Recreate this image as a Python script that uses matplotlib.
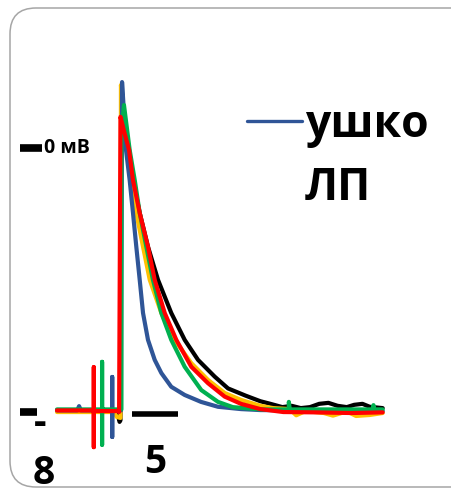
import matplotlib
matplotlib.use("Agg")
import matplotlib.pyplot as plt
from matplotlib.patches import FancyBboxPatch
from matplotlib.lines import Line2D

plt.rcParams['font.family'] = ['Open Sans', 'DejaVu Sans']

# traces: time (ms), membrane potential (mV)
red_t = [0.0, 2.4, 4.0, 4.0, 4.0, 4.0, 6.75, 6.75, 6.9, 7.3, 7.83, 8.26, 8.99, 9.89, 10.62,
         11.71, 12.97, 14.6, 16.41, 18.23, 20.0, 22.1, 24.6, 28.0, 32.0, 35.4]
red_v = [-80.0, -80.0, -80.0, -66.8, -91.2, -80.2, -80.2, -80.5, 9.5, 5.0, -0.6, -9.8, -19.8,
         -30.1, -40.2, -50.3, -58.5, -66.7, -71.7, -75.8, -78.0, -79.6, -80.5, -80.6, -80.8,
         -80.6]

yellow_t = [0.0, 6.2, 6.5, 6.9, 6.95, 7.3, 7.6, 8.08, 8.62, 9.35, 10.08, 11.34, 12.79, 14.6,
            16.41, 18.23, 20.0, 22.1, 23.5, 25.3, 26.0, 27.0, 29.0, 30.0, 31.5, 32.5, 34.0, 35.4]
yellow_v = [-80.5, -80.5, -82.0, -82.3, 19.2, 8.0, -0.6, -9.8, -19.8, -30.1, -40.2, -50.3,
            -58.5, -65.6, -70.7, -74.7, -76.8, -78.6, -79.3, -79.6, -81.5, -80.2, -80.8, -81.6,
            -80.3, -81.7, -81.4, -80.8]

green_t = [0.0, 4.9, 4.9, 4.9, 4.9, 7.0, 7.0, 7.28, 7.9, 8.45, 8.99, 9.71, 10.43, 11.34, 12.42,
           13.88, 15.68, 17.5, 19.1, 22.1, 25.2, 25.2, 25.3, 30.0, 34.3, 34.4, 34.5, 35.4]
green_v = [-79.7, -79.7, -65.2, -90.5, -79.7, -79.7, 5.0, 13.1, -0.6, -9.8, -19.8, -30.1,
           -40.2, -50.3, -58.5, -66.7, -73.8, -77.4, -79.0, -79.7, -79.7, -77.4, -79.7, -79.7,
           -79.7, -78.4, -79.7, -79.7]

blue_t = [0.0, 2.2, 2.4, 2.6, 6.0, 6.0, 6.0, 6.0, 6.95, 7.07, 7.3, 7.5, 7.9, 8.26, 8.62, 8.99,
          9.35, 9.89, 10.62, 11.34, 12.42, 13.88, 15.65, 17.5, 20.0, 22.1, 35.4]
blue_v = [-80.0, -80.0, -78.7, -80.0, -80.0, -69.8, -88.1, -80.0, -80.0, 20.1, 10.0, -0.6,
          -9.8, -19.8, -30.1, -40.2, -50.3, -58.5, -64.6, -68.6, -72.8, -75.3, -77.4, -78.9,
          -79.6, -79.9, -80.2]

black_t = [0.0, 6.5, 6.8, 6.9, 7.0, 7.83, 8.26, 8.99, 9.89, 10.98, 12.42, 13.88, 15.33, 17.14,
           18.59, 20.5, 22.1, 23.2, 24.5, 25.5, 26.5, 27.5, 28.5, 29.5, 30.5, 31.5, 32.3, 33.2,
           34.0, 35.4]
black_v = [-80.0, -80.0, -83.5, -83.0, 10.0, -0.6, -9.8, -19.8, -30.1, -40.2, -50.3, -58.5,
           -64.6, -69.7, -73.3, -75.5, -77.2, -78.0, -79.0, -78.6, -79.3, -79.0, -78.0, -77.7,
           -78.6, -79.0, -78.3, -78.0, -78.9, -79.3]

legend_label = ["ушко", "ЛП"]
scale_ms = 5

W, H = 452, 488
fig = plt.figure(figsize=(W / 100, H / 100), dpi=100)

# rounded frame in pixel space
bg = fig.add_axes([0, 0, 1, 1])
bg.set_xlim(0, W)
bg.set_ylim(H, 0)
bg.axis('off')
bg.add_patch(FancyBboxPatch((10, 8), 480, 479, boxstyle="round,pad=0,rounding_size=26",
                            fc='white', ec='#a6a6a6', lw=1.1))

# trace axes: 9.2 px per ms, 3.28 px per mV, 0 mV at y=148 px
ax = fig.add_axes([0, 0, 1, 1])
ax.set_xlim((0 - 57) / 9.2, (W - 57) / 9.2)
ax.set_ylim((148 - H) / 3.28, 148 / 3.28)
ax.axis('off')

style = dict(lw=3.0, solid_joinstyle='round', solid_capstyle='round')
ax.plot(black_t, black_v, color='black', **style)
ax.plot(yellow_t, yellow_v, color='#ffc000', **style)
ax.plot(blue_t, blue_v, color='#2f5597', **style)
ax.plot(green_t, green_v, color='#00b050', **style)
ax.plot(red_t, red_v, color='#ff0000', **style)

# 0 mV and baseline marks, 5 ms scale bar
ax.plot([-4.0, -1.65], [0, 0], color='black', lw=5.5, solid_capstyle='butt')
ax.plot([-4.0, -2.2], [-80.5, -80.5], color='black', lw=5.5, solid_capstyle='butt')
ax.plot([8.2, 8.2 + scale_ms], [-81.2, -81.2], color='black', lw=4, solid_capstyle='butt')

ax.text(-1.45, 0, "0 мВ", fontsize=14, fontweight='bold', va='center', ha='left')
ax.text(8.2 + scale_ms / 2, -90, str(scale_ms), fontsize=28, fontweight='bold',
        va='top', ha='center')
fig.text(40 / W, 1 - 423 / H, "-", fontsize=28, fontweight='bold', va='center', ha='center')
fig.text(44 / W, 1 - 484 / H, "8", fontsize=28, fontweight='bold', va='baseline', ha='center')

# legend entry
fig.add_artist(Line2D([247 / W, 302 / W], [1 - 121 / H, 1 - 121 / H], color='#2f5597',
                      lw=2.4, solid_capstyle='round'))
fig.text(305 / W, 1 - 137 / H, legend_label[0], fontsize=32, fontweight='bold',
         va='baseline', ha='left')
fig.text(305 / W, 1 - 200 / H, legend_label[1], fontsize=32, fontweight='bold',
         va='baseline', ha='left')

fig.savefig('out.png', dpi=100)
